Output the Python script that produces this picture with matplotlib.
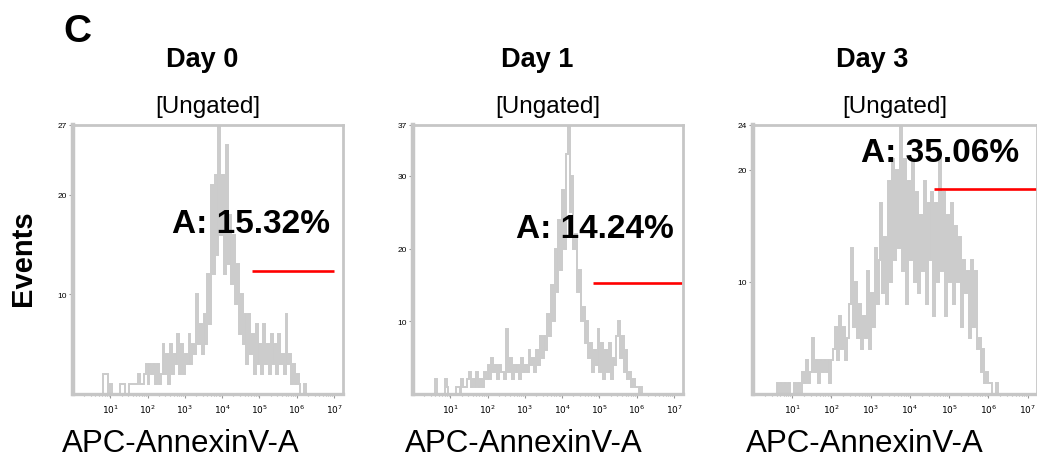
import numpy as np
import matplotlib
matplotlib.use('Agg')
import matplotlib.pyplot as plt
from matplotlib.ticker import FixedLocator, NullFormatter, LogLocator

plt.rcParams['font.family'] = ['Liberation Sans', 'DejaVu Sans']

W, H = 1037, 460

days = ['Day 0', 'Day 1', 'Day 3']
gate_text = ['A: 15.32%', 'A: 14.24%', 'A: 35.06%']
y_max = [27, 37, 24]
y_major = [[10, 20, 27], [10, 20, 30, 37], [10, 20, 24]]

# histogram bins: log10 of first bin edge, bin width in decades
bin_start = [0.80, 0.55, 0.55]
bin_step = 0.05

counts_day0 = [2, 2, 2, 0, 1, 0, 0, 0, 0, 1, 1, 1, 0, 0, 1, 1, 1, 1, 1, 2,
               1, 1, 2, 3, 1, 3, 2, 3, 1, 3, 1, 2, 5, 2, 4, 1, 5, 2, 4, 3,
               6, 2, 5, 2, 4, 3, 6, 3, 5, 4, 10, 5, 7, 4, 8, 5, 12, 7, 21, 12,
               22, 14, 27, 16, 22, 12, 25, 13, 18, 11, 16, 9, 13, 6, 10, 5, 8, 3, 8, 4,
               6, 2, 7, 3, 5, 2, 7, 3, 5, 2, 6, 3, 5, 2, 6, 3, 4, 2, 8, 3,
               4, 1, 3, 1, 2, 1, 0, 0, 1, 0]

counts_day1 = [0, 2, 0, 0, 0, 0, 2, 1, 0, 0, 0, 0, 1, 1, 0, 2, 1, 1, 2, 3,
               1, 2, 1, 3, 1, 2, 1, 3, 2, 4, 2, 5, 3, 4, 2, 4, 3, 3, 2, 9,
               3, 5, 2, 4, 3, 4, 2, 5, 3, 4, 3, 6, 4, 5, 3, 6, 4, 8, 5, 8,
               6, 11, 8, 15, 10, 20, 14, 24, 17, 28, 20, 33, 37, 25, 30, 20, 22, 14, 17, 10,
               12, 7, 10, 5, 7, 3, 6, 4, 9, 3, 7, 2, 6, 3, 7, 2, 5, 4, 8, 10,
               5, 8, 3, 6, 2, 3, 1, 2, 1, 1, 0, 1, 0]

counts_day3 = [0, 1, 0, 1, 0, 1, 0, 1, 0, 0, 1, 0, 1, 0, 2, 1, 3, 1, 2, 5,
               2, 3, 1, 3, 2, 3, 2, 3, 1, 3, 4, 6, 3, 7, 4, 6, 3, 5, 8, 13,
               6, 10, 5, 8, 4, 7, 5, 11, 4, 9, 6, 13, 8, 12, 17, 9, 14, 8, 19, 10,
               21, 12, 20, 13, 24, 11, 21, 8, 19, 12, 21, 10, 18, 9, 16, 11, 19, 8, 17, 12,
               18, 7, 17, 10, 21, 11, 18, 7, 16, 10, 17, 8, 15, 10, 14, 6, 12, 9, 11, 5,
               12, 6, 11, 4, 5, 2, 4, 1, 2, 1, 1, 0, 0, 1, 0]

all_counts = [counts_day0, counts_day1, counts_day3]

# gate marker (red line): log10 start, log10 end, height in events
gate_x0 = [4.81, 4.84, 4.61]
gate_x1 = [7.0, 7.2, 7.4]
gate_y = [12.3, 15.2, 18.3]

# pixel layout (left, right, top, bottom) of each plot box
boxes = [(73, 343, 126, 395), (413, 683, 126, 395), (753, 1037, 126, 395)]
day_x = [202, 537, 872]
ungated_x = [208, 548, 895]
gate_text_pos = [(172, 233), (516, 238), (861, 162)]
xlabel_x = [181, 524, 865]

FRAME = '#c6c6c6'
HIST = '#cbcbcb'


def fx(x):
    return x / W


def fy(y):
    return 1 - y / H


fig = plt.figure(figsize=(W / 100, H / 100), dpi=100)

for i in range(3):
    l, r, t, b = boxes[i]
    ax = fig.add_axes([fx(l), fy(b), (r - l) / W, (b - t) / H])
    counts = np.array(all_counts[i])
    edges = 10 ** (bin_start[i] + bin_step * np.arange(len(counts) + 1))
    ax.stairs(counts, edges, color=HIST, linewidth=1.4, baseline=0)
    ax.plot([10 ** gate_x0[i], 10 ** gate_x1[i]], [gate_y[i], gate_y[i]],
            color='red', linewidth=1.9, solid_capstyle='butt', clip_on=True)

    ax.set_xscale('log')
    ax.set_xlim(1, 10 ** 7.24)
    ax.set_ylim(0, y_max[i])

    ax.xaxis.set_major_locator(FixedLocator([10 ** k for k in range(1, 8)]))
    ax.xaxis.set_minor_locator(LogLocator(base=10, subs=np.arange(2, 10), numticks=20))
    ax.xaxis.set_minor_formatter(NullFormatter())
    ax.set_xticklabels([r'$10^{%d}$' % k for k in range(1, 8)], fontsize=6.5)

    ax.yaxis.set_major_locator(FixedLocator(y_major[i]))
    ax.yaxis.set_minor_locator(FixedLocator(list(range(2, y_max[i], 2))))
    ax.set_yticklabels([str(v) for v in y_major[i]], fontsize=6)

    ax.tick_params(which='major', length=3, width=0.8, color='#999999', pad=1.5)
    ax.tick_params(which='minor', length=1.5, width=0.8, color='#aaaaaa')
    ax.tick_params(axis='x', which='major', pad=3)

    for s in ax.spines.values():
        s.set_color(FRAME)
        s.set_linewidth(2.0)
    ax.spines['left'].set_linewidth(3.2)
    ax.spines['bottom'].set_linewidth(2.4)

    fig.text(fx(day_x[i]), fy(67), days[i], ha='center', va='baseline',
             fontsize=19.5, fontweight='bold')
    fig.text(fx(ungated_x[i]), fy(113), '[Ungated]', ha='center', va='baseline',
             fontsize=17.5)
    tx, ty = gate_text_pos[i]
    fig.text(fx(tx), fy(ty), gate_text[i], ha='left', va='baseline',
             fontsize=24, fontweight='bold')
    fig.text(fx(xlabel_x[i]), fy(452), 'APC-AnnexinV-A', ha='center', va='baseline',
             fontsize=22.5)

fig.text(fx(77), fy(42), 'C', ha='center', va='baseline', fontsize=28, fontweight='bold')
fig.text(fx(23), fy(258), 'Events', ha='center', va='center', rotation=90,
         fontsize=21, fontweight='bold')

fig.savefig('out.png', dpi=100)
